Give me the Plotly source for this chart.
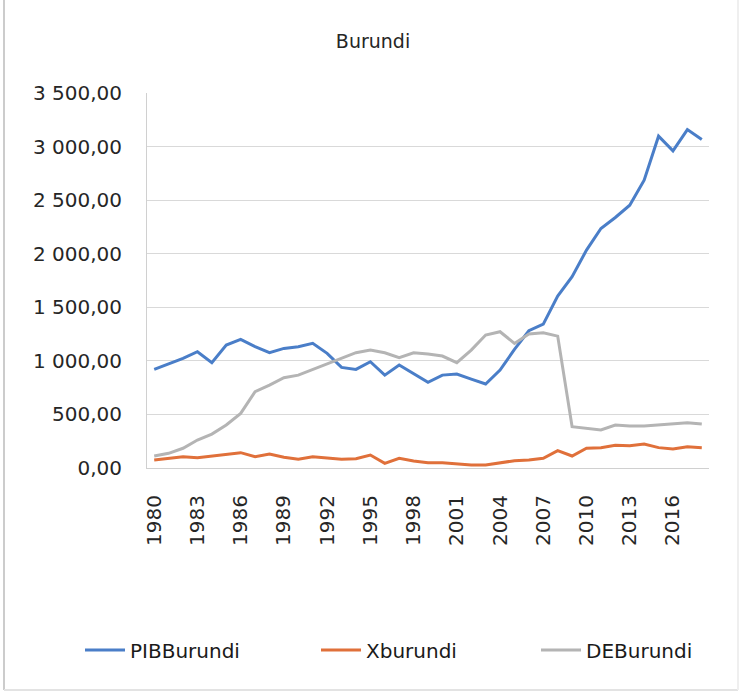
import plotly.graph_objects as go

years = list(range(1980, 2019))

pib_burundi = [920, 970, 1023, 1085, 983, 1147, 1200, 1132, 1076, 1116,
               1132, 1163, 1070, 939, 920, 992, 867, 961, 883, 800,
               867, 877, 830, 784, 914, 1107, 1281, 1343, 1604, 1785,
               2034, 2236, 2338, 2453, 2686, 3097, 2960, 3159, 3066]

x_burundi = [75, 90, 105, 96, 112, 121, 143, 105, 131, 100,
             81, 105, 90, 81, 87, 121, 43, 90, 65, 50,
             50, 37, 28, 28, 50, 68, 75, 90, 162, 112,
             184, 190, 212, 208, 224, 190, 177, 199, 190]

de_burundi = [112, 137, 184, 261, 317, 401, 510, 712, 774, 843,
              867, 920, 970, 1023, 1076, 1101, 1076, 1030, 1076, 1063,
              1045, 983, 1101, 1241, 1272, 1163, 1250, 1262, 1231, 386,
              371, 355, 401, 392, 392, 401, 407, 423, 410]

x_tick_vals = list(range(1980, 2017, 3))
x_tick_text = [str(v) for v in x_tick_vals]
y_tick_vals = [0, 500, 1000, 1500, 2000, 2500, 3000, 3500]
y_tick_text = ["0,00", "500,00", "1 000,00", "1 500,00", "2 000,00",
               "2 500,00", "3 000,00", "3 500,00"]

series = [
    ("PIBBurundi", pib_burundi, "#4A7EC8", "legend", 80),
    ("Xburundi", x_burundi, "#E0703A", "legend2", 316),
    ("DEBurundi", de_burundi, "#B4B4B4", "legend3", 536),
]

W, H = 742, 699

fig = go.Figure()
for name, vals, color, lg, _ in series:
    fig.add_trace(go.Scatter(x=years, y=vals, name=name, mode="lines",
                             line=dict(color=color, width=3), legend=lg))

def line(x0, y0, x1, y1, color, width):
    return dict(type="line", xref="paper", yref="paper",
                x0=(x0 - 147) / 562, x1=(x1 - 147) / 562,
                y0=(468 - y0) / 375, y1=(468 - y1) / 375,
                line=dict(color=color, width=width), layer="below")

legends = {}
for name, vals, color, lg, lx in series:
    legends[lg] = dict(orientation="h", xref="container", x=lx / W, xanchor="left",
                       yref="container", y=1 - 650 / H, yanchor="middle",
                       font=dict(size=20, color="#1a1a1a"), itemwidth=40,
                       bgcolor="rgba(0,0,0,0)")

fig.update_layout(
    width=W, height=H,
    paper_bgcolor="white", plot_bgcolor="white",
    font=dict(family="DejaVu Sans", size=20, color="#262626"),
    margin=dict(l=147, r=33, t=93, b=231),
    title=dict(text="Burundi", x=373 / W, xanchor="center", xref="container",
               y=1 - 41 / H, yanchor="middle", yref="container",
               font=dict(size=19, color="#262626")),
    xaxis=dict(range=[1979.5, 2018.5], tickvals=x_tick_vals, ticktext=x_tick_text,
               tickangle=-90, showgrid=False, showline=True, linecolor="#D0D0D0",
               linewidth=1, ticks="", zeroline=False, fixedrange=True,
               ticklabelstandoff=18),
    yaxis=dict(range=[0, 3500], tickvals=y_tick_vals, ticktext=y_tick_text,
               showgrid=True, gridcolor="#D9D9D9", gridwidth=1,
               showline=True, linecolor="#D0D0D0", linewidth=1,
               ticks="", zeroline=False, fixedrange=True,
               ticklabelstandoff=20),
    showlegend=True,
    shapes=[
        line(4, 0, 4, 690, "#CCCCCC", 2),
        line(4, 690, 738, 690, "#E3E3E3", 2),
        line(738, 0, 738, 690, "#EFEFEF", 2),
    ],
    **legends,
)

fig.write_html("out.html", config={"displayModeBar": False},
               post_script="document.body.style.margin='0';")
